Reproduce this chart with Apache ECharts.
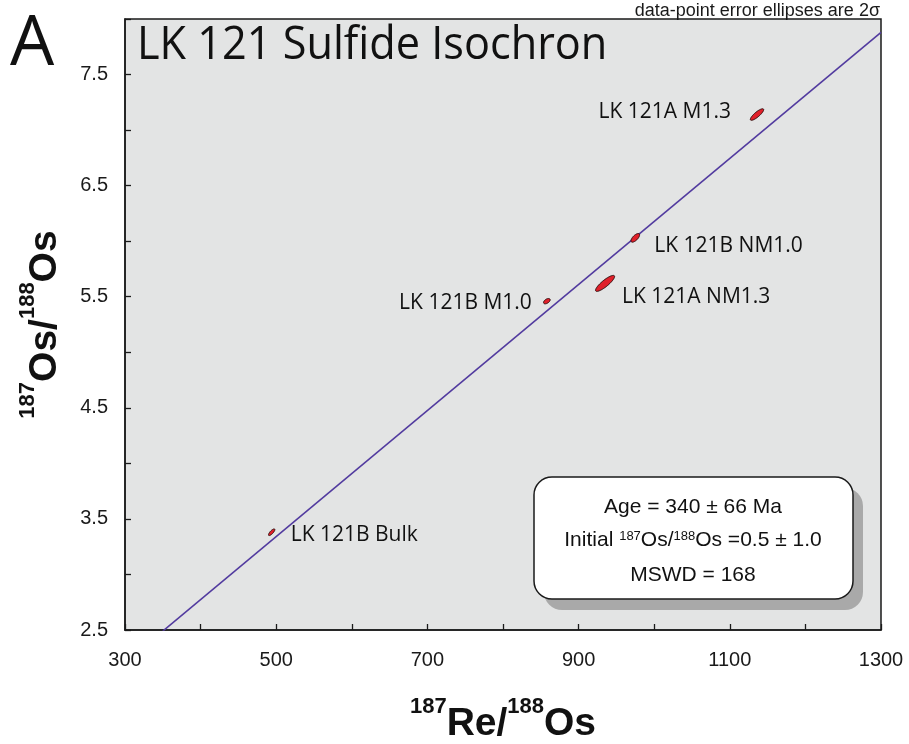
<!DOCTYPE html>
<html>
<head>
<meta charset="utf-8">
<title>LK 121 Sulfide Isochron</title>
<script src="https://cdn.jsdelivr.net/npm/echarts@6/dist/echarts.min.js"></script>
<style>
  html, body { margin: 0; padding: 0; background: #ffffff; }
  #chart { width: 909px; height: 744px; }
</style>
</head>
<body>
<div id="chart"></div>
<script>
// Sample analyses: 187Re/188Os and 187Os/188Os
const sampleNames = ['LK 121A M1.3', 'LK 121B NM1.0', 'LK 121A NM1.3', 'LK 121B M1.0', 'LK 121B Bulk'];
const reOs = [1136, 975, 935, 858, 494];
const osOs = [7.14, 6.03, 5.62, 5.46, 3.38];
// 2-sigma uncertainties and error correlation for each analysis
const err2sX = [8.8, 5.7, 12.6, 4.4, 4.2];
const err2sY = [0.052, 0.039, 0.072, 0.024, 0.030];
const errRho = [0.84, 0.68, 0.86, 0.50, 0.78];
// Regression line end points
const isochronX = [350, 1300];
const isochronY = [2.49, 7.88];
// Tick labels
const xTickLabels = [300, 500, 700, 900, 1100, 1300];
const yTickLabels = [2.5, 3.5, 4.5, 5.5, 6.5, 7.5];

// Label placement next to each ellipse (pixels)
const labelPlacement = [
  { side: 'left',  gap: 26, dy: -3 },
  { side: 'right', gap: 19, dy: 8 },
  { side: 'right', gap: 17, dy: 14 },
  { side: 'left',  gap: 15, dy: 2 },
  { side: 'right', gap: 19, dy: 3 }
];

const chart = echarts.init(document.getElementById('chart'), null, { renderer: 'canvas' });

const ellipseData = reOs.map((x, i) => [x, osOs[i], err2sX[i], err2sY[i], errRho[i]]);

function isIn(list, v) {
  return list.some(t => Math.abs(t - v) < 1e-6);
}

const supStyle = { fontSize: 22, fontWeight: 'bold', fontFamily: 'Liberation Sans', color: '#111', verticalAlign: 'top' };
const mainStyle = { fontSize: 39, fontWeight: 'bold', fontFamily: 'Liberation Sans', color: '#111', verticalAlign: 'bottom', padding: [9, 0, 0, 0] };

chart.setOption({
  animation: false,
  backgroundColor: '#ffffff',
  grid: {
    left: 125, right: 28, top: 19, bottom: 114,
    outerBoundsMode: 'none',
    containLabel: false,
    show: true,
    backgroundColor: '#e3e4e4',
    borderColor: '#1a1a1a',
    borderWidth: 1.5
  },
  xAxis: {
    type: 'value',
    min: 300, max: 1300, interval: 100,
    axisLine: { show: true, onZero: false, lineStyle: { color: '#1a1a1a', width: 1.5 } },
    axisTick: { show: true, inside: true, length: 6, lineStyle: { color: '#1a1a1a', width: 1.3 } },
    splitLine: { show: false },
    axisLabel: {
      margin: 20,
      fontFamily: 'Liberation Sans', fontSize: 20, color: '#1a1a1a',
      formatter: v => isIn(xTickLabels, v) ? String(v) : ''
    },
    name: '{sup|187}{main|Re/}{sup|188}{main|Os}',
    nameLocation: 'middle',
    nameGap: 66,
    nameTextStyle: { rich: { sup: supStyle, main: mainStyle } }
  },
  yAxis: {
    type: 'value',
    min: 2.5, max: 8.0, interval: 0.5,
    axisLine: { show: true, onZero: false, lineStyle: { color: '#1a1a1a', width: 1.5 } },
    axisTick: { show: true, inside: true, length: 6, lineStyle: { color: '#1a1a1a', width: 1.3 } },
    splitLine: { show: false },
    axisLabel: {
      margin: 17,
      fontFamily: 'Liberation Sans', fontSize: 20, color: '#1a1a1a',
      formatter: v => isIn(yTickLabels, v) ? v.toFixed(1) : ''
    },
    name: '{sup|187}{main|Os/}{sup|188}{main|Os}',
    nameLocation: 'middle',
    nameGap: 60,
    nameTextStyle: { rich: { sup: supStyle, main: mainStyle } }
  },
  series: [
    {
      type: 'line',
      data: isochronX.map((x, i) => [x, isochronY[i]]),
      symbol: 'none',
      lineStyle: { color: '#523b9f', width: 1.6 },
      silent: true,
      z: 2
    },
    {
      type: 'custom',
      data: ellipseData,
      encode: { x: 0, y: 1 },
      z: 3,
      renderItem: function (params, api) {
        const i = params.dataIndex;
        const x0 = api.value(0), y0 = api.value(1);
        const sx = api.value(2), sy = api.value(3), rho = api.value(4);
        const k = Math.sqrt(1 - rho * rho);
        const pts = [];
        for (let j = 0; j < 72; j++) {
          const t = j / 72 * Math.PI * 2;
          const px = x0 + sx * Math.cos(t);
          const py = y0 + sy * (rho * Math.cos(t) + k * Math.sin(t));
          pts.push(api.coord([px, py]));
        }
        const c = api.coord([x0, y0]);
        const lp = labelPlacement[i];
        return {
          type: 'group',
          children: [
            {
              type: 'polygon',
              shape: { points: pts },
              style: { fill: '#e0202a', stroke: '#2a0a0a', lineWidth: 1 }
            },
            {
              type: 'text',
              x: lp.side === 'left' ? c[0] - lp.gap : c[0] + lp.gap,
              y: c[1] + lp.dy,
              style: {
                text: sampleNames[i],
                fontFamily: 'Open Sans', fontSize: 21, fill: '#111',
                align: lp.side === 'left' ? 'right' : 'left',
                verticalAlign: 'middle'
              }
            }
          ]
        };
      }
    }
  ],
  graphic: [
    {
      type: 'text',
      left: 10, top: 10,
      style: { text: 'A', fontFamily: 'Open Sans', fontSize: 70, fill: '#111' }
    },
    {
      type: 'text',
      x: 137, y: 46,
      scaleX: 0.94,
      style: { text: 'LK 121 Sulfide Isochron', fontFamily: 'Open Sans', fontSize: 46, fill: '#111', verticalAlign: 'middle' }
    },
    {
      type: 'text',
      x: 880, y: 11,
      style: { text: 'data-point error ellipses are 2σ', fontFamily: 'Liberation Sans', fontSize: 18, fill: '#1a1a1a', align: 'right', verticalAlign: 'middle' }
    },
    {
      type: 'group',
      z: 10,
      children: [
        { type: 'rect', shape: { x: 544, y: 488, width: 319, height: 122, r: 18 }, style: { fill: '#a9a9a9' } },
        { type: 'rect', shape: { x: 534, y: 477, width: 319, height: 122, r: 18 }, style: { fill: '#ffffff', stroke: '#1a1a1a', lineWidth: 1.5 } },
        { type: 'text', x: 693, y: 507, style: { text: 'Age = 340 ± 66 Ma', fontFamily: 'Liberation Sans', fontSize: 21, fill: '#111', align: 'center', verticalAlign: 'middle' } },
        { type: 'text', x: 693, y: 540, style: {
            text: '{n|Initial }{s|187}{n|Os/}{s|188}{n|Os =0.5 ± 1.0}',
            align: 'center', verticalAlign: 'middle',
            rich: {
              n: { fontFamily: 'Liberation Sans', fontSize: 21, fill: '#111' },
              s: { fontFamily: 'Liberation Sans', fontSize: 13, fill: '#111', verticalAlign: 'top', padding: [0, 0, 8, 0] }
            }
          } },
        { type: 'text', x: 693, y: 575, style: { text: 'MSWD = 168', fontFamily: 'Liberation Sans', fontSize: 21, fill: '#111', align: 'center', verticalAlign: 'middle' } }
      ]
    }
  ]
});
</script>
</body>
</html>
